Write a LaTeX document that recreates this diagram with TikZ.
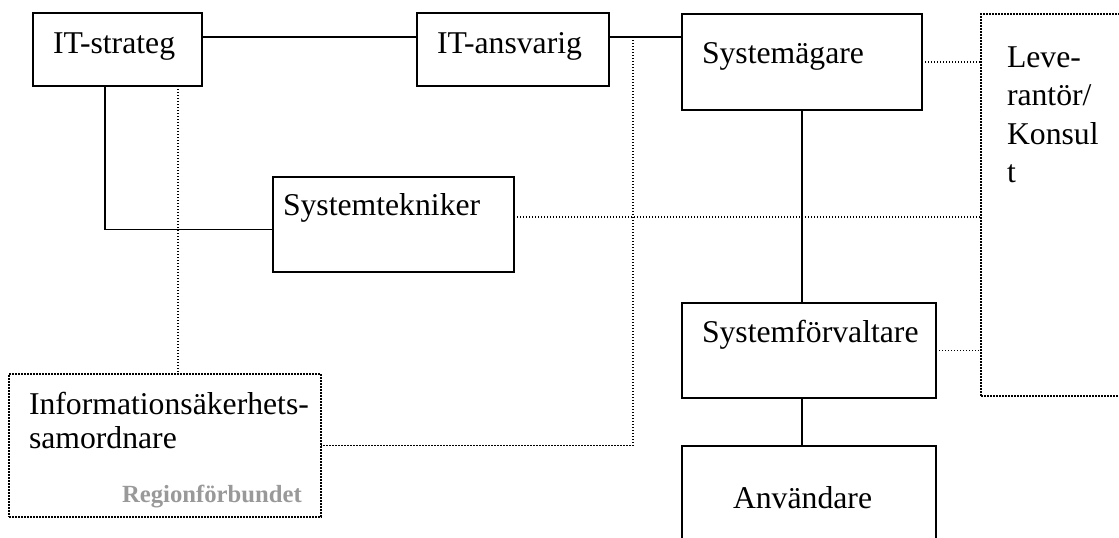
\documentclass[tikz,border=0pt]{standalone}
\usepackage{fontspec}
\setmainfont{Liberation Serif}
\exhyphenpenalty=10000
\tikzset{
  rolebox/.style={draw, rectangle, line width=1.8pt, anchor=north west, outer sep=0pt,
    inner ysep=0pt, align=left, font=\fontsize{31.7}{38.5}\selectfont},
  dotbox/.style={rolebox, line width=1.6pt, dash pattern=on 1.6pt off 1.4pt},
  boxgeom/.style n args={4}{minimum width=#1pt, minimum height=#2pt, inner xsep=#3pt,
    text width=#1pt-2*#3pt, text height=#4pt, text depth=#2pt-#4pt},
  solidline/.style={line width=1.8pt},
  dotline/.style={line width=1.4pt, dash pattern=on 1.4pt off 1.6pt},
}
\begin{document}
\begin{tikzpicture}[x=1pt, y=-1pt]
      \useasboundingbox (0,0) rectangle (1119,538);
      \clip (0,0) rectangle (1119,538);
      \node[rolebox, boxgeom={169}{73}{20}{40}] (strateg) at (33,13) {IT-strateg};
      \node[rolebox, boxgeom={192}{73}{20}{40}] (ansvarig) at (417,13) {IT-ansvarig};
      \node[rolebox, boxgeom={240}{96}{20}{49}] (agare) at (682,14) {Systemägare};
      \node[dotbox, boxgeom={180}{382}{26}{53}] (lev) at (981,14) {Leve-\\rantör/\\Konsul\\t};
      \node[rolebox, boxgeom={241}{95}{10}{38}] (tekniker) at (273,177) {Systemtekniker};
      \node[dotbox, boxgeom={312}{143}{20}{40}, font=\fontsize{31.7}{34}\selectfont]
        (info) at (9,374) {Informationsäkerhets-\\samordnare};
      \node[anchor=base east, inner sep=0pt, text=black!40, font=\fontsize{24.7}{28}\selectfont\bfseries]
        (region) at (302,502) {Regionförbundet};
      \node[rolebox, boxgeom={254}{95}{20}{39}] (forv) at (682,303) {Systemförvaltare};
      \node[rolebox, boxgeom={254}{120}{51}{62}] (anv) at (682,446) {Användare};
      \coordinate (tap) at (633,37);
      \begin{scope}[solidline]
        \draw ([yshift=12.5pt]strateg.east) -- ([yshift=12.5pt]ansvarig.west);
        \draw ([yshift=12.5pt]ansvarig.east) -- ([yshift=12.5pt]ansvarig.east -| agare.west);
        \draw ([xshift=-12.5pt]strateg.south) |- ([yshift=-5pt]tekniker.west);
        \draw (agare.south) -- (agare.south |- forv.north);
        \draw ([xshift=-7pt]forv.south) -- ([xshift=-7pt]anv.north);
      \end{scope}
      \begin{scope}[dotline]
        \draw ([xshift=60.5pt]strateg.south) -- ([xshift=60.5pt]strateg.south |- info.north);
        \draw (tap) |- (info.east);
        \draw (agare.east) -- (agare.east -| lev.west);
        \draw ([yshift=7.5pt]tekniker.east) -- ([yshift=7.5pt]tekniker.east -| lev.west);
        \draw (forv.east) -- (forv.east -| lev.west);
      \end{scope}
    \end{tikzpicture}
\end{document}
